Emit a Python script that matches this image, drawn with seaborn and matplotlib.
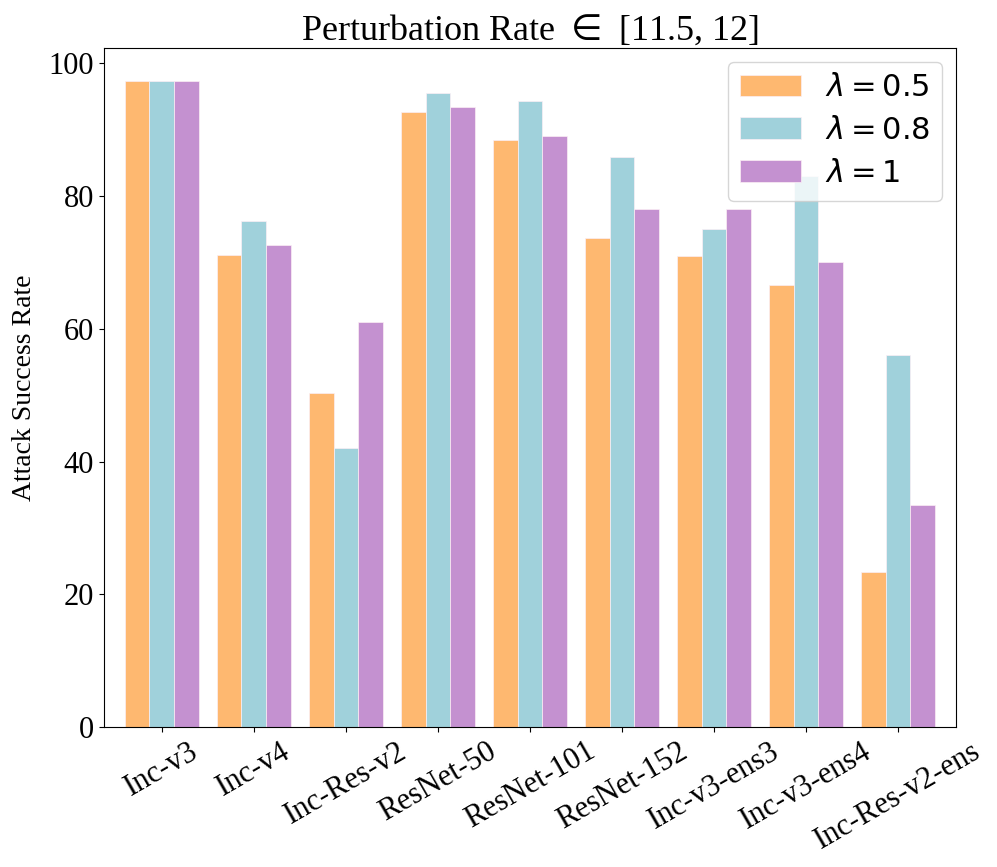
import matplotlib
matplotlib.use("Agg")
import matplotlib.pyplot as plt
import seaborn as sns
import pandas as pd

models = ["Inc-v3", "Inc-v4", "Inc-Res-v2", "ResNet-50", "ResNet-101",
          "ResNet-152", "Inc-v3-ens3", "Inc-v3-ens4", "Inc-Res-v2-ens"]
series_labels = [r"$\lambda=0.5$", r"$\lambda=0.8$", r"$\lambda=1$"]
vals_05 = [97.4, 71.1, 50.4, 92.6, 88.4, 73.7, 70.9, 66.6, 23.4]
vals_08 = [97.4, 76.2, 42.1, 95.6, 94.4, 85.9, 75.0, 83.1, 56.1]
vals_1 = [97.4, 72.6, 61.0, 93.5, 89.1, 78.1, 78.1, 70.0, 33.5]
colors = ["#FEB870", "#A0D1DB", "#C491D0"]

rows = []
for lab, vals in zip(series_labels, [vals_05, vals_08, vals_1]):
    for m, v in zip(models, vals):
        rows.append({"model": m, "series": lab, "rate": v})
df = pd.DataFrame(rows)

plt.rcParams["font.family"] = ["Liberation Serif", "DejaVu Serif"]
plt.rcParams["mathtext.fontset"] = "dejavusans"

fig = plt.figure(figsize=(9.97, 8.67), dpi=100)
ax = fig.add_axes([0.104, 0.1615, 0.855, 0.783])

sns.barplot(data=df, x="model", y="rate", hue="series", order=models,
            hue_order=series_labels, palette=colors, saturation=1, width=0.8,
            ax=ax, edgecolor="#fbeff5", linewidth=0.5, errorbar=None)

ax.set_xlim(-0.63, 8.63)
ax.set_ylim(0, 102.3)
ax.set_yticks([0, 20, 40, 60, 80, 100])
ax.set_xlabel("")
ax.set_ylabel("Attack Success Rate", fontsize=20, labelpad=8)
ax.set_title(r"Perturbation Rate $\in$ [11.5, 12]", fontsize=26, pad=6)
ax.tick_params(axis="both", labelsize=22)
for t in ax.get_xticklabels():
    t.set_rotation(30)
    t.set_ha("center")

ax.legend(loc="upper right", fontsize=22, framealpha=0.8, title=None,
          handlelength=2.0, labelspacing=0.45, borderaxespad=0.45)

fig.savefig("out.png", dpi=100)
